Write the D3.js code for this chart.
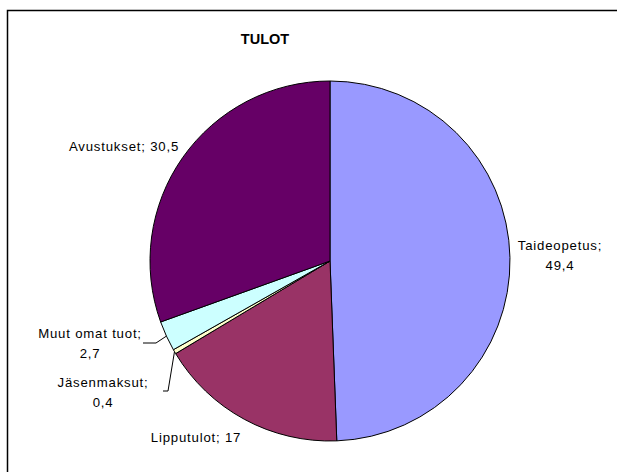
<!DOCTYPE html>
<html><head><meta charset="utf-8">
<script src="https://cdn.jsdelivr.net/npm/d3@7"></script>
<style>body{margin:0;background:#fff}svg{display:block}</style>
</head><body>
<script>
const categories = ["Taideopetus", "Lipputulot", "Jäsenmaksut", "Muut omat tuot", "Avustukset"];
const values = [49.4, 17, 0.4, 2.7, 30.5];
const valueLabels = ["49,4", "17", "0,4", "2,7", "30,5"];
const colors = ["#9999FF", "#993366", "#FFFFCC", "#CCFFFF", "#660066"];
const title = "TULOT";

const W = 617, H = 472, cx = 330, cy = 261, R = 180;
const svg = d3.select("body").append("svg").attr("width", W).attr("height", H);
svg.append("rect").attr("x", 7.5).attr("y", 10.5).attr("width", 700).attr("height", 600)
  .attr("fill", "#fff").attr("stroke", "#000").attr("stroke-width", 1.5);
svg.append("text").attr("x", 265).attr("y", 44).attr("text-anchor", "middle")
  .attr("font-family", "Liberation Sans, Arial, sans-serif").attr("font-weight", "bold")
  .attr("font-size", 14.5).text(title);

const data = categories.map((c, i) => ({c, v: values[i], lab: valueLabels[i], col: colors[i]}));
const pie = d3.pie().value(d => d.v).sort(null);
const arcs = pie(data);
const arc = d3.arc().innerRadius(0).outerRadius(R);
const g = svg.append("g").attr("transform", `translate(${cx},${cy})`);
g.selectAll("path").data(arcs).enter().append("path")
  .attr("d", arc).attr("fill", d => d.data.col).attr("stroke", "#000").attr("stroke-width", 1);

// label layout (positions relative to svg)
const labelLayout = [
  {lines: d => [d.c + ";", d.lab], x: 560, y: 250, anchor: "middle"},
  {lines: d => [d.c + "; " + d.lab], x: 196, y: 442, anchor: "middle"},
  {lines: d => [d.c + ";", d.lab], x: 103, y: 387, anchor: "middle", leader: [[163, 391], [168, 391]]},
  {lines: d => [d.c + ";", d.lab], x: 90, y: 338, anchor: "middle", leader: [[143, 343], [156, 343]]},
  {lines: d => [d.c + "; " + d.lab], x: 124, y: 151, anchor: "middle"}
];
const font = "Liberation Sans, Arial, sans-serif";
arcs.forEach((a, i) => {
  const L = labelLayout[i];
  const lines = L.lines(a.data);
  const t = svg.append("text").attr("font-family", font).attr("font-size", 13.2)
    .attr("letter-spacing", 0.8).attr("fill", "#000").attr("text-anchor", L.anchor);
  lines.forEach((ln, k) => t.append("tspan").attr("x", L.x).attr("y", L.y + k * 19.5).text(ln));
  if (L.leader) {
    const mid = (a.startAngle + a.endAngle) / 2;
    const px = cx + Math.sin(mid) * R, py = cy - Math.cos(mid) * R;
    const pts = L.leader.concat([[px, py]]);
    svg.append("path").attr("d", d3.line()(pts)).attr("fill", "none")
      .attr("stroke", "#000").attr("stroke-width", 1);
  }
});
</script>
</body></html>
